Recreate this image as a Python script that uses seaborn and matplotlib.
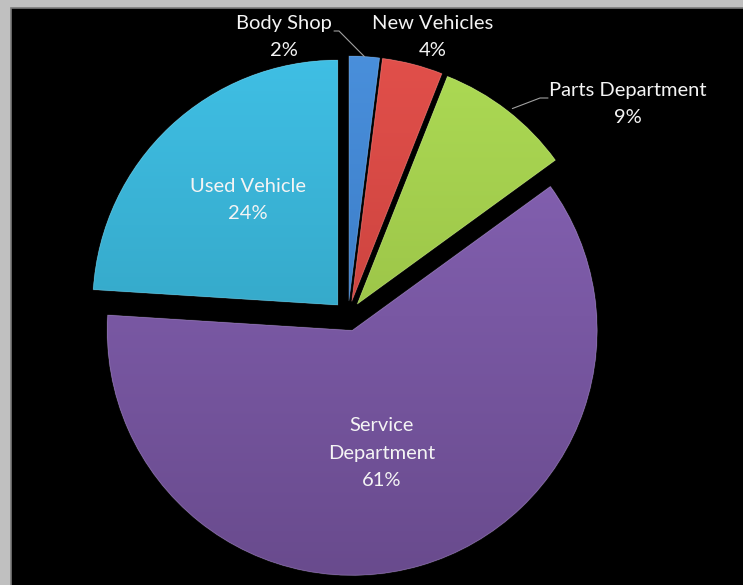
import numpy as np
import matplotlib
matplotlib.use("Agg")
import matplotlib.pyplot as plt
import seaborn as sns
from matplotlib.colors import LinearSegmentedColormap
from matplotlib.patches import Rectangle, PathPatch

# Revenue share by department
departments = ["Body Shop", "New Vehicles", "Parts Department", "Service Department", "Used Vehicle"]
shares = [2, 4, 9, 61, 24]
label_text = ["Body Shop\n2%", "New Vehicles\n4%", "Parts Department\n9%",
              "Service\nDepartment\n61%", "Used Vehicle\n24%"]

sns.set_theme(style="white")
plt.rcParams["font.family"] = ["Lato", "DejaVu Sans"]

# light (top) and dark (bottom) shade of each slice
top_colors = sns.color_palette(["#4a90dc", "#e2504b", "#addb55", "#8a66ba", "#40c0e6"])
bottom_colors = sns.color_palette(["#2f6cb5", "#b83834", "#8cb03c", "#684a8c", "#2b93ae"])

W, H = 743, 585
fig = plt.figure(figsize=(W / 100, H / 100), dpi=100)
fig.patch.set_facecolor("#c0c0c0")
ax = fig.add_axes([0, 0, 1, 1])
ax.set_facecolor("#c0c0c0")

# black chart area inside the grey window frame
ax.add_patch(Rectangle((11, -5), W, H - 8 + 5, facecolor="black",
                       edgecolor="#7a7a7a", linewidth=1.2, zorder=0))

cx, cy, R = 348, H - 316, 245
wedges, _ = ax.pie(shares, startangle=90, counterclock=False,
                   explode=[15] * len(shares), radius=R, center=(cx, cy),
                   colors=top_colors, frame=False,
                   wedgeprops=dict(linewidth=0))

grad = np.linspace(1, 0, 256).reshape(-1, 1)
for w, ctop, cbot in zip(wedges, top_colors, bottom_colors):
    cmap = LinearSegmentedColormap.from_list("shade", [cbot, ctop])
    im = ax.imshow(grad, cmap=cmap, vmin=0, vmax=1, aspect="auto",
                   extent=(cx - R - 30, cx + R + 30, cy - R - 30, cy + R + 30),
                   origin="upper", zorder=2)
    im.set_clip_path(w)
    w.set_zorder(1)
    # soft bevel rim
    rim = PathPatch(w.get_path(), transform=w.get_transform(),
                    facecolor="none", edgecolor="white",
                    linewidth=1.0, alpha=0.12, zorder=3)
    ax.add_patch(rim)

text_kw = dict(color="#f4f4f4", fontsize=14.5, ha="center", va="center",
               linespacing=1.72, zorder=5)
label_pos = [(284, 37), (433, 37), (628, 104), (382, 453), (248, 200)]
for txt, (x, y) in zip(label_text, label_pos):
    ax.text(x, H - y, txt, **text_kw)

# leader lines for the outside labels, ending on the slice rim
def rim_point(w):
    tm = np.deg2rad((w.theta1 + w.theta2) / 2)
    return w.center[0] + R * np.cos(tm), w.center[1] + R * np.sin(tm)

bx, by = rim_point(wedges[0])
ax.plot([334, 339, bx], [H - 31, H - 31, by], color="#a0a0a0", lw=0.8, zorder=4)
px, py = rim_point(wedges[2])
ax.plot([548, 540, px + 5], [H - 98, H - 98, py + 2], color="#a0a0a0", lw=0.8, zorder=4)

ax.set_xlim(0, W)
ax.set_ylim(0, H)
ax.set_aspect("equal")
ax.axis("off")

fig.savefig("out.png", dpi=100, facecolor=fig.get_facecolor())
